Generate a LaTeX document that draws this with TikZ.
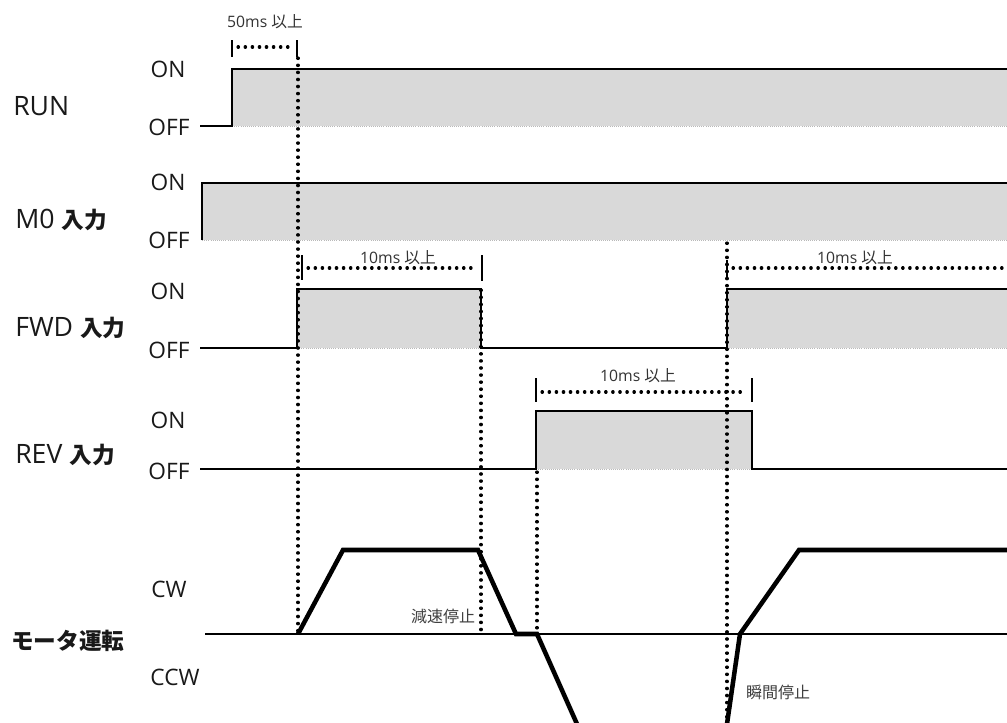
\documentclass[tikz,border=0pt]{standalone}
\usepackage{fontspec}
\setmainfont{Open Sans}
\newfontfamily\jp{Noto Sans CJK JP}
\begin{document}
\begin{tikzpicture}[x=0.75pt,y=-0.75pt,
  sig/.style={line width=1.9pt, black, line join=miter},
  fillg/.style={fill=gray!30},
  grayedge/.style={gray!55, line width=0.6pt, densely dotted},
  dotline/.style={line width=2.3pt, line cap=round, dash pattern=on 0.4pt off 4.9pt},
  tickmark/.style={line width=1.4pt},
  motor/.style={line width=3.4pt, line join=miter},
  baseline/.style={line width=1.4pt},
  lvl/.style={inner sep=0pt, font=\fontsize{17}{20}\selectfont, text=black!90},
  rowlbl/.style={inner sep=0pt, anchor=west, font=\fontsize{20}{24}\selectfont, text=black!90},
  note/.style={inner sep=0pt, font=\fontsize{11.8}{14}\selectfont, text=black!80},
  jpnote/.style={inner sep=0pt, font=\jp\fontsize{12}{14}\selectfont, text=black!75},
  jpin/.style={}
]
\useasboundingbox (0,0) rectangle (1007,722);
\fill[white] (0,0) rectangle (1007,722);

% ---------- gray fills ----------
\fill[fillg] (232,69) rectangle (1007,126);
\fill[fillg] (202,183) rectangle (1007,240);
\fill[fillg] (297,289) rectangle (481,348);
\fill[fillg] (727,289) rectangle (1007,348);
\fill[fillg] (536,411) rectangle (752,469);
\draw[grayedge] (232,126) -- (1007,126);
\draw[grayedge] (202,240) -- (1007,240);
\draw[grayedge] (297,348) -- (481,348);
\draw[grayedge] (727,348) -- (1007,348);
\draw[grayedge] (536,469) -- (752,469);

% ---------- signals ----------
\draw[sig] (200,126) -- (232,126) -- (232,69) -- (1007,69);
\draw[sig] (202,240) -- (202,183) -- (1007,183);
\draw[sig] (200,348) -- (297,348) -- (297,289) -- (481,289) -- (481,348) -- (727,348) -- (727,289) -- (1007,289);
\draw[sig] (200,469) -- (536,469) -- (536,411) -- (752,411) -- (752,469) -- (1007,469);

% ---------- motor ----------
\coordinate (m0) at (205,634);
\coordinate (m1) at (1007,634);
\draw[baseline] (m0) -- (m1);
\coordinate (a0) at (298,634);
\coordinate (a1) at (343,550);
\coordinate (a2) at (478,550);
\coordinate (a3) at (516,634);
\coordinate (a4) at (537,634);
\coordinate (a5) at (577,724);
\draw[motor] (a0) -- (a1) -- (a2) -- (a3) -- (a4) -- (a5);
\coordinate (b0) at (727,724);
\coordinate (b1) at (740,634);
\coordinate (b2) at (799,550);
\coordinate (b3) at (1007,550);
\draw[motor] (b0) -- (b1) -- (b2) -- (b3);

% ---------- vertical dotted guides ----------
\draw[dotline] (298,58) -- (298,632);
\draw[dotline] (481,290) -- (481,632);
\draw[dotline] (537,472) -- (537,632);
\draw[dotline] (727,243) -- (727,722);

% ---------- brackets ----------
\draw[tickmark] (232,40) -- (232,57);
\draw[tickmark] (297,40) -- (297,57);
\draw[dotline] (238,47) -- (292,47);
\node[note] (t50) at (265,22) {50ms {\jp 以上}};

\draw[tickmark] (302,255) -- (302,280);
\draw[tickmark] (482,255) -- (482,281);
\draw[dotline] (308,268) -- (476,268);
\node[note] (t10a) at (398,258) {10ms {\jp 以上}};

\draw[tickmark] (727,260) -- (727,277);
\draw[dotline] (733,268) -- (1007,268);
\node[note] (t10b) at (855,258) {10ms {\jp 以上}};

\draw[tickmark] (536,378) -- (536,402);
\draw[tickmark] (752,378) -- (752,402);
\draw[dotline] (542,392) -- (746,392);
\node[note] (t10c) at (638,376) {10ms {\jp 以上}};

% ---------- labels ----------
\node[rowlbl] (lrun) at (13,106) {RUN};
\node[rowlbl] (lm0) at (15,220) {M0 {\jp\bfseries\fontsize{17}{20}\selectfont 入力}};
\node[rowlbl] (lfwd) at (15,328) {FWD {\jp\bfseries\fontsize{17}{20}\selectfont 入力}};
\node[rowlbl] (lrev) at (15,455) {REV {\jp\bfseries\fontsize{17}{20}\selectfont 入力}};
\node[rowlbl] (lmot) at (11,641) {\jp\bfseries\fontsize{17}{20}\selectfont モータ運転};

\node[lvl] (on1) at (168,69) {ON};
\node[lvl] (off1) at (169,127) {OFF};
\node[lvl] (on2) at (168,182) {ON};
\node[lvl] (off2) at (169,240) {OFF};
\node[lvl] (on3) at (168,291) {ON};
\node[lvl] (off3) at (169,350) {OFF};
\node[lvl] (on4) at (168,420) {ON};
\node[lvl] (off4) at (169,471) {OFF};
\node[lvl] (cw) at (169,589) {CW};
\node[lvl] (ccw) at (175,677) {CCW};

\node[jpnote] (dec) at (443,616) {減速停止};
\node[jpnote] (inst) at (778,692) {瞬間停止};
\end{tikzpicture}
\end{document}
